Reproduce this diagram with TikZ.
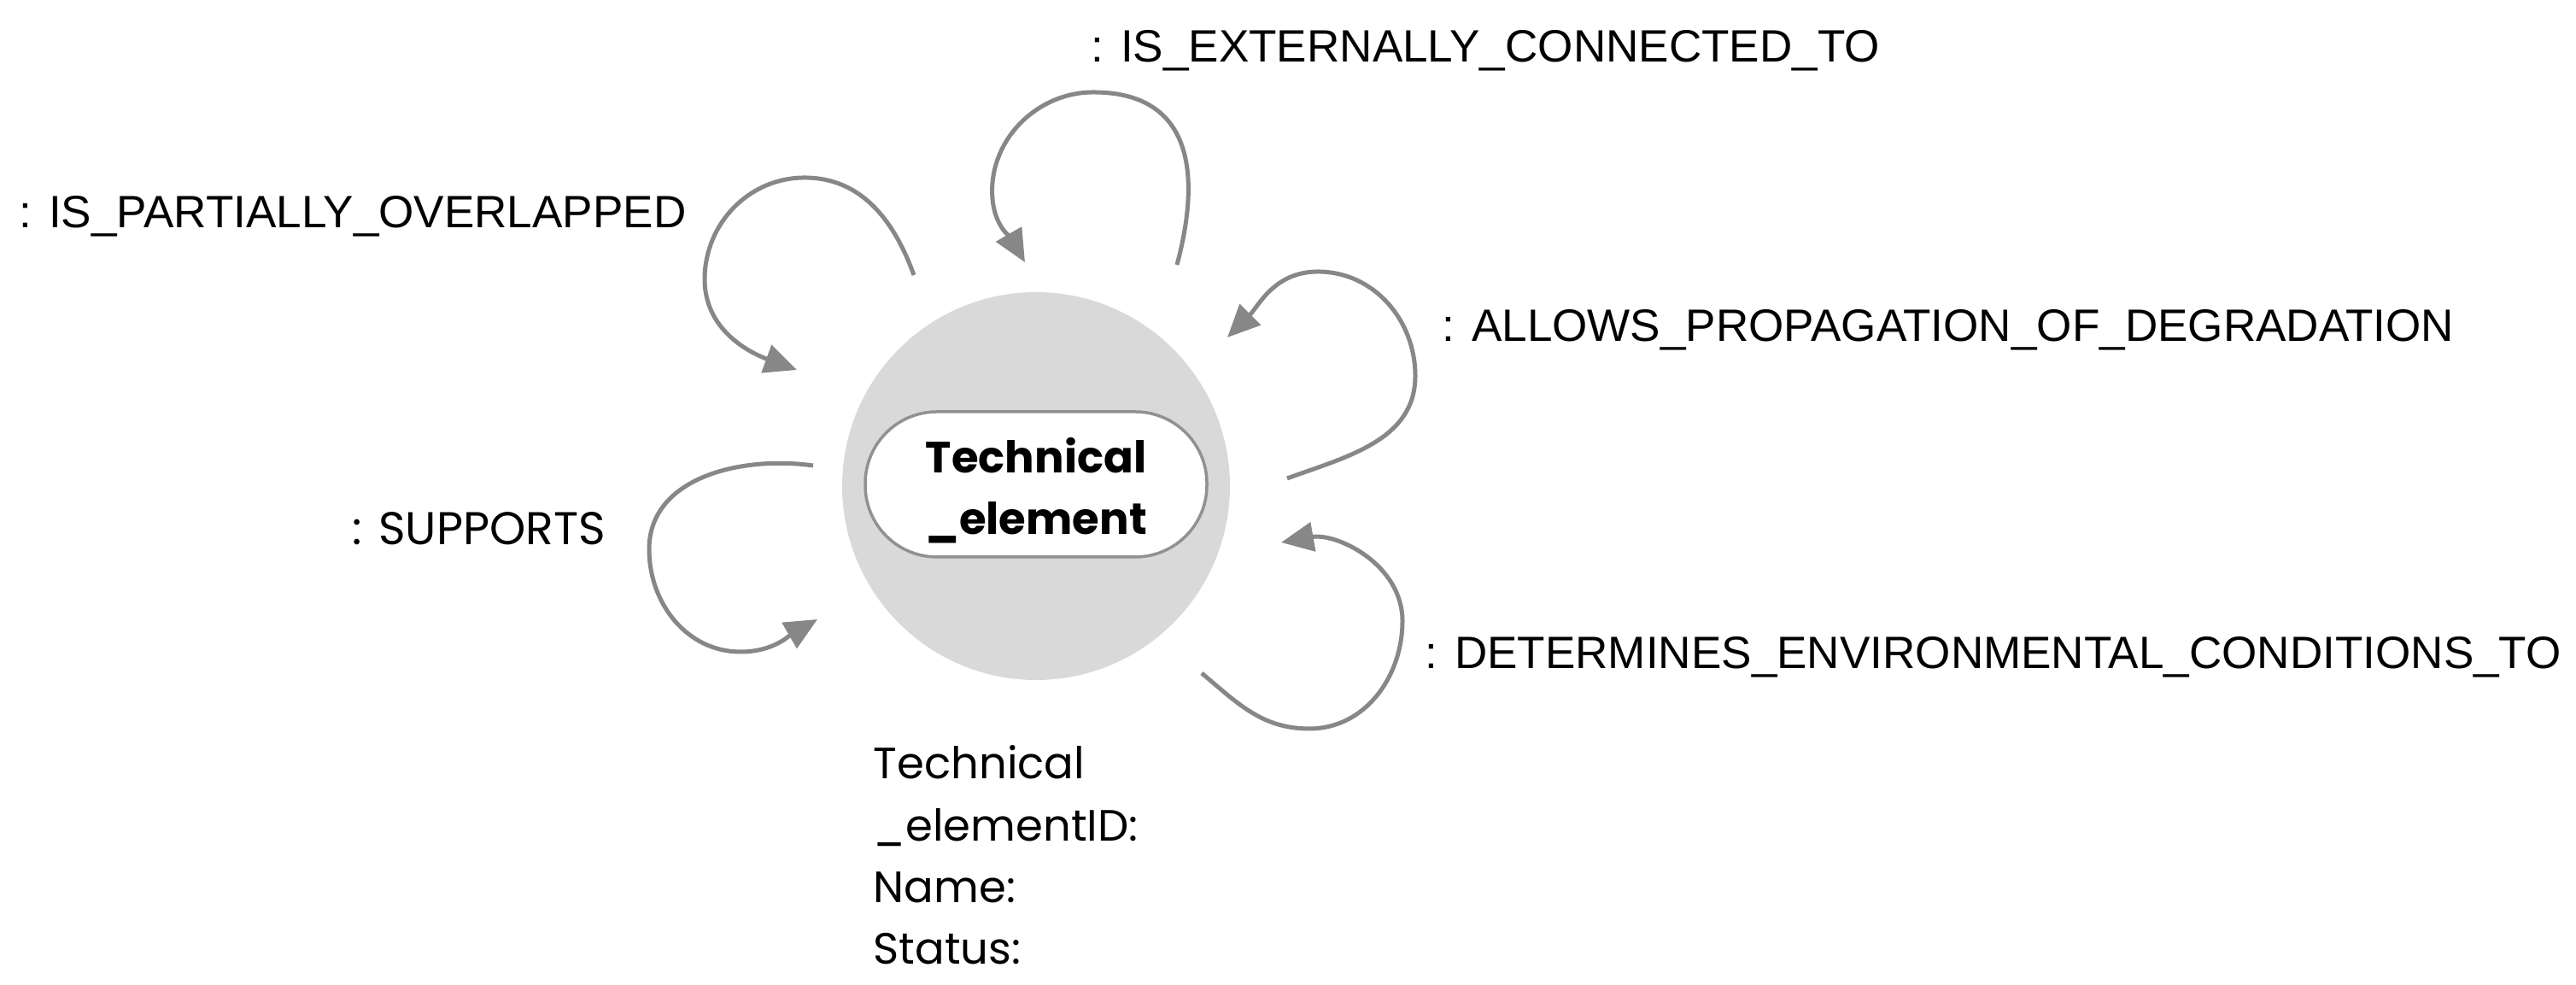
\documentclass[tikz,border=0pt]{standalone}
\usepackage{fontspec}
\setmainfont{Poppins}
\newfontfamily\relfont{Liberation Sans}
\usepackage{xcolor}
\usetikzlibrary{positioning,arrows.meta}
\definecolor{LoopGray}{RGB}{135,135,135}
\definecolor{DiscGray}{RGB}{217,217,217}
\definecolor{BoxGray}{RGB}{145,145,145}

\begin{document}
\begin{tikzpicture}[
        % Disc behind the entity
        discnode/.style={
            circle,
            fill=DiscGray,
            minimum size=4.54cm,
            inner sep=0pt
        },
        % Entity box: white, fully rounded ends
        entitynode/.style={
            rectangle,
            rounded corners=0.84cm,
            draw=BoxGray,
            fill=white,
            line width=0.035cm,
            minimum width=4cm,
            minimum height=1.7cm,
            inner sep=0pt
        },
        % Text inside the entity box
        entitytext/.style={
            font=\bfseries\fontsize{14.6pt}{20.5pt}\selectfont,
            align=center,
            inner sep=0pt
        },
        % Relation labels
        rellabel/.style={
            font=\relfont\fontsize{15.1pt}{18pt}\selectfont,
            anchor=base west,
            inner sep=0pt
        },
        % Attribute list under the disc
        attrlabel/.style={
            font=\fontsize{14.6pt}{20.6pt}\selectfont,
            align=left,
            anchor=north west,
            inner sep=0pt
        },
        % Self-loop arrows
        relloop/.style={
            draw=LoopGray,
            line width=0.05cm,
            -{Triangle[length=0.38cm, width=0.34cm]}
        }
    ]
        \useasboundingbox (0,0) rectangle (30.16,11.53);

        % --- 1. ENTITY ---
        \node[discnode] (disc) at (12.13,5.84) {};
        \node[entitynode] (box) at (12.13,5.86) {};
        \node[entitytext] (entity) at (12.13,5.79) {Technical\\\_element};

        % --- 2. ATTRIBUTES ---
        \node[attrlabel] (attrs) at (10.22,2.81) {Technical\\\_elementID:\\Name:\\Status:};

        % --- 3. LOOP END POINTS ---
        % tails (t), tips (h) and points the loops pass through
        \coordinate (t1) at (10.70,8.31); \coordinate (h1) at (9.33,7.20);
        \coordinate (a1) at (9.42,9.45);  \coordinate (b1) at (8.25,8.26);
        \coordinate (t2) at (13.78,8.43); \coordinate (h2) at (12.00,8.46);
        \coordinate (a2) at (12.80,10.45); \coordinate (b2) at (11.62,9.20);
        \coordinate (t3) at (15.07,5.93); \coordinate (h3) at (14.37,7.58);
        \coordinate (r3) at (16.57,7.13); \coordinate (a3) at (15.43,8.35);
        \coordinate (t4) at (14.07,3.65); \coordinate (h4) at (15.00,5.18);
        \coordinate (d4) at (15.33,3.00); \coordinate (r4) at (16.42,4.26);
        \coordinate (t5) at (9.52,6.08);  \coordinate (h5) at (9.57,4.28);
        \coordinate (b5) at (7.60,5.10);  \coordinate (d5) at (8.67,3.90);

        % --- 4. LOOPS ---
        \draw[relloop] (t1) to[out=110,in=0] (a1) to[out=180,in=90] (b1) to[out=270,in=160] (h1);
        \draw[relloop] (t2) to[out=75,in=0,looseness=1.3] (a2) to[out=180,in=95] (b2) to[out=275,in=120] (h2);
        \draw[relloop] (t3) to[out=20,in=270] (r3) to[out=90,in=0] (a3) to[out=180,in=45] (h3);
        \draw[relloop] (t4) to[out=-40,in=180] (d4) to[out=0,in=270] (r4) to[out=90,in=10] (h4);
        \draw[relloop] (t5) to[out=172,in=90] (b5) to[out=270,in=180] (d5) to[out=0,in=210] (h5);

        % --- 5. RELATION LABELS ---
        \node[rellabel] (lpart) at (0.22,8.86) {: IS\_PARTIALLY\_OVERLAPPED};
        \node[rellabel] (lext) at (12.77,10.80) {: IS\_EXTERNALLY\_CONNECTED\_TO};
        \node[rellabel] (lprop) at (16.88,7.53) {: ALLOWS\_PROPAGATION\_OF\_DEGRADATION};
        \node[rellabel] (lenv) at (16.68,3.70) {: DETERMINES\_ENVIRONMENTAL\_CONDITIONS\_TO};
        \node[rellabel, font=\fontsize{15.3pt}{18pt}\selectfont] (lsup) at (4.12,5.15) {: SUPPORTS};

    \end{tikzpicture}
\end{document}
